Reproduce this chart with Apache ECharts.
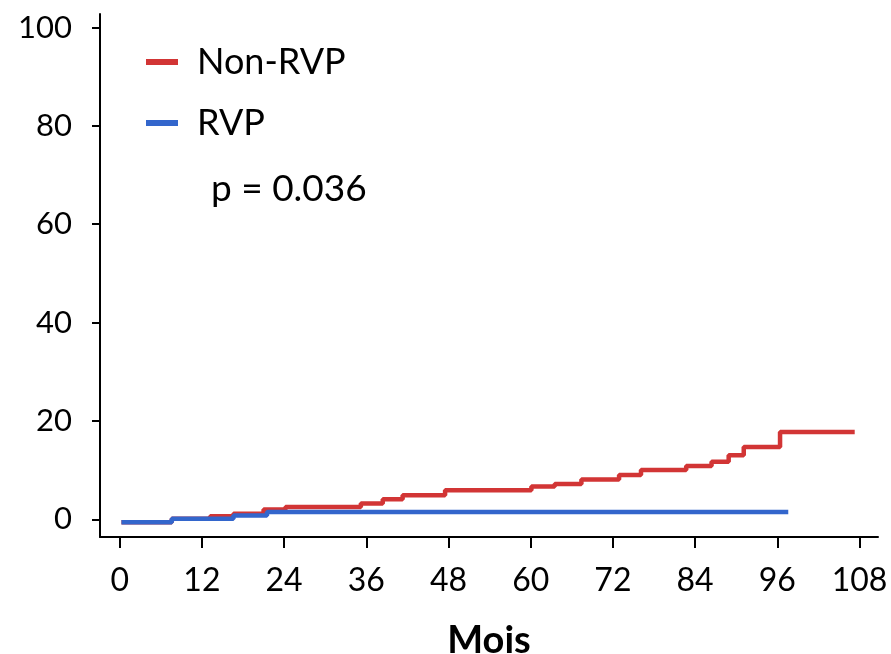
<!DOCTYPE html>
<html>
<head>
<meta charset="utf-8">
<script src="https://cdn.jsdelivr.net/npm/echarts@6/dist/echarts.min.js"></script>
<style>
html,body{margin:0;padding:0;background:#fff;}
#chart{width:891px;height:654px;}
</style>
</head>
<body>
<div id="chart"></div>
<script>
// Data (months, cumulative %)
const nonRvpMonths = [0.25, 7.6, 13.2, 16.6, 21.0, 24.2, 35.2, 38.4, 41.3, 47.5, 60.1, 63.5, 67.4, 72.9, 76.1, 82.7, 86.4, 88.9, 91.1, 96.4, 107.3];
const nonRvpValues = [-0.6, 0.1, 0.6, 1.15, 2.0, 2.5, 3.2, 4.1, 4.9, 5.9, 6.65, 7.2, 8.1, 9.0, 10.0, 10.85, 11.7, 13.0, 14.7, 17.75, 17.75];
const rvpMonths = [0.25, 7.6, 16.6, 21.5, 97.6];
const rvpValues = [-0.6, 0.1, 0.75, 1.5, 1.5];
const xTicks = [0, 12, 24, 36, 48, 60, 72, 84, 96, 108];
const yTicks = [0, 20, 40, 60, 80, 100];
const seriesNames = ['Non-RVP', 'RVP'];
const pText = 'p = 0.036';
const xTitle = 'Mois';

const FONT = 'Lato';
const zip = (a, b) => a.map((v, i) => [v, b[i]]);

const chart = echarts.init(document.getElementById('chart'));
chart.setOption({
  animation: false,
  backgroundColor: '#fff',
  grid: { left: 100, right: 13, top: 14, bottom: 117, containLabel: false, outerBoundsMode: 'none' },
  legend: {
    orient: 'vertical',
    left: 141,
    top: 39,
    itemWidth: 32,
    itemHeight: 6,
    itemGap: 25,
    icon: 'rect',
    textStyle: { fontFamily: FONT, fontSize: 36, color: '#000', padding: [0, 0, 0, 14] },
    data: seriesNames
  },
  graphic: [{
    type: 'text',
    left: 211,
    top: 171,
    style: { text: pText, fontFamily: FONT, fontSize: 37, fill: '#000' }
  }],
  xAxis: {
    type: 'value',
    min: -2.88,
    max: 110.7,
    name: xTitle,
    nameLocation: 'middle',
    nameGap: 85,
    nameTextStyle: { fontFamily: FONT, fontSize: 38, fontWeight: 'bold', color: '#000' },
    axisLine: { show: true, onZero: false, lineStyle: { color: '#000', width: 2 } },
    axisTick: { show: true, customValues: xTicks, length: 11, lineStyle: { color: '#000', width: 2 } },
    axisLabel: { customValues: xTicks, margin: 28, fontFamily: FONT, fontSize: 32, color: '#000' },
    splitLine: { show: false }
  },
  yAxis: {
    type: 'value',
    min: -3.6,
    max: 102.75,
    axisLine: { show: true, onZero: false, lineStyle: { color: '#000', width: 2 } },
    axisTick: { show: true, customValues: yTicks, length: 8, lineStyle: { color: '#000', width: 2 } },
    axisLabel: { customValues: yTicks, margin: 28, fontFamily: FONT, fontSize: 31, color: '#000' },
    splitLine: { show: false }
  },
  series: [
    {
      name: seriesNames[0],
      type: 'line',
      step: 'end',
      showSymbol: false,
      symbol: 'none',
      color: '#d23535',
      lineStyle: { color: '#d23535', width: 4.5 },
      data: zip(nonRvpMonths, nonRvpValues)
    },
    {
      name: seriesNames[1],
      type: 'line',
      step: 'end',
      showSymbol: false,
      symbol: 'none',
      color: '#3366cc',
      lineStyle: { color: '#3366cc', width: 4.5 },
      data: zip(rvpMonths, rvpValues)
    }
  ]
});
</script>
</body>
</html>
